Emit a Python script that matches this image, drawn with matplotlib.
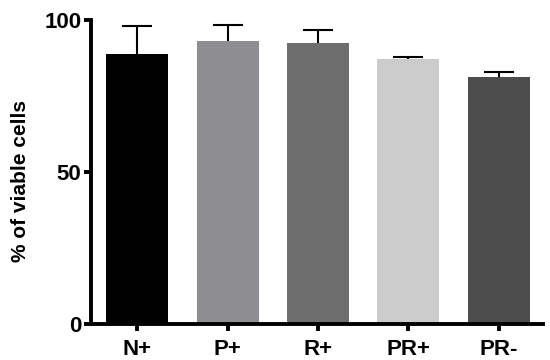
import matplotlib.pyplot as plt

groups = ['N+', 'P+', 'R+', 'PR+', 'PR-']
viable = [89.0, 93.0, 92.4, 87.2, 81.2]
sem = [9.0, 5.3, 4.3, 0.6, 1.6]
bar_colors = ['#000000', '#8e8d92', '#6e6e6e', '#cccccc', '#4d4d4d']

plt.rcParams['font.family'] = ['Liberation Sans', 'DejaVu Sans']
plt.rcParams['font.weight'] = 'bold'

fig = plt.figure(figsize=(5.5, 3.6), dpi=100)
ax = fig.add_axes([0.1655, 0.1, 0.822, 0.844])

x = range(len(groups))
# upper error bars only
bars = ax.bar(x, viable, width=0.685, color=bar_colors,
              yerr=[[0] * len(sem), sem], capsize=11,
              error_kw={'elinewidth': 1.5, 'capthick': 1.5, 'ecolor': 'black'})
# drop the lower caps sitting on top of the bars
caps = bars.errorbar.lines[1]
caps[0].set_visible(False)

ax.set_xlim(-0.51, 4.49)
ax.set_ylim(0, 100)
ax.set_yticks([0, 50, 100])
ax.set_xticks(list(x))
ax.set_xticklabels(groups, fontsize=16, fontweight='bold')
for lab in ax.get_yticklabels():
    lab.set_fontsize(16)
    lab.set_fontweight('bold')
ax.set_ylabel('% of viable cells', fontsize=15, fontweight='bold')
ax.yaxis.set_label_coords(-0.135, 0.47)

for s in ['top', 'right']:
    ax.spines[s].set_visible(False)
for s in ['left', 'bottom']:
    ax.spines[s].set_linewidth(2.8)
ax.tick_params(axis='both', width=2.8, length=5, pad=2)
ax.tick_params(axis='x', pad=6)

fig.savefig('out.png', dpi=100)
